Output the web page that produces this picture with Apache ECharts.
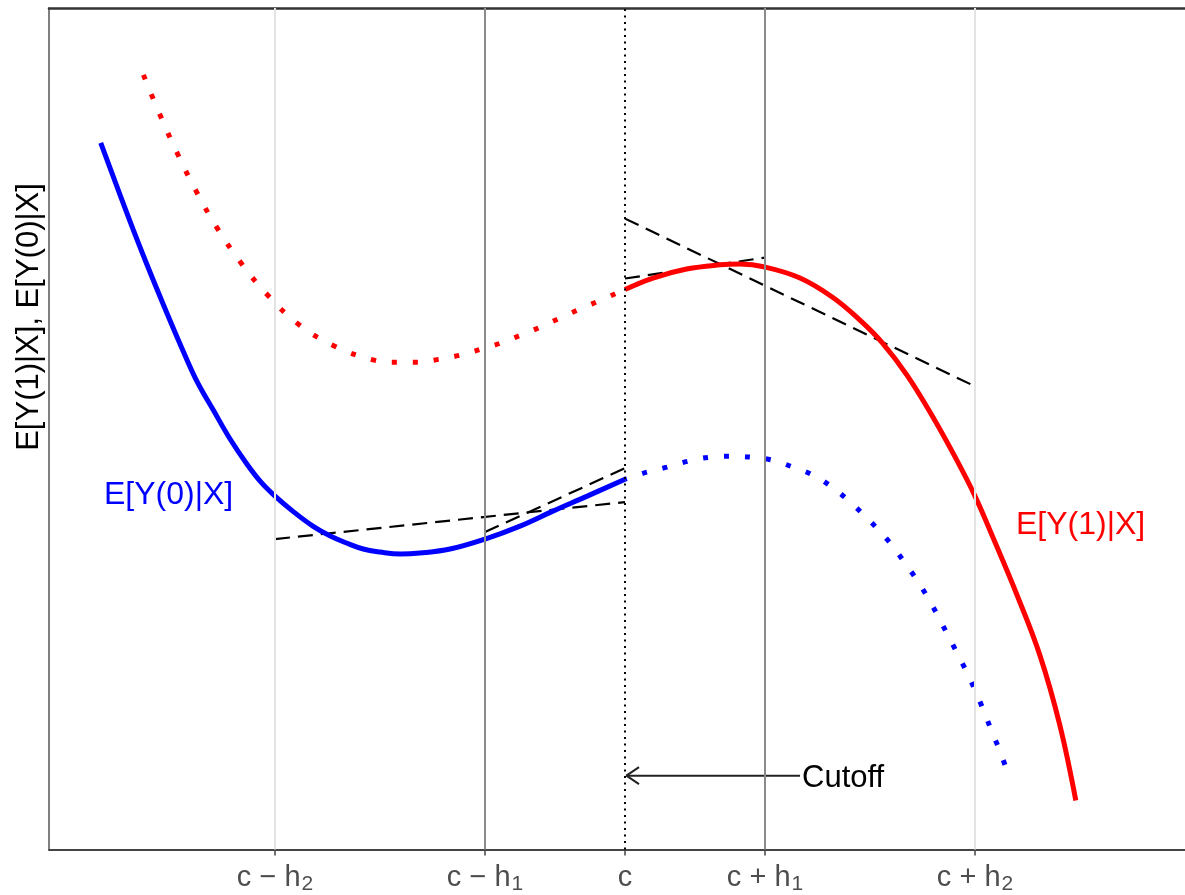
<!DOCTYPE html>
<html lang="en">

<head>
    <meta charset="UTF-8">
    <title>RD cutoff</title>
    <style>
        html, body { margin: 0; padding: 0; background: #fff; }
        #chart { width: 1185px; height: 895px; }
    </style>
</head>

<body>
    <div id="chart"></div>
</body>
<script src="https://cdn.jsdelivr.net/npm/echarts@6/dist/echarts.min.js"></script>
<script>
    // x in units where c = 0, h1 = 2, h2 = 5 ; y in arbitrary units
    const tickValues = [-5, -2, 0, 2, 5];
    const tickLabels = ['{m|c − h}{s|2}', '{m|c − h}{s|1}', '{m|c}', '{m|c + h}{s|1}', '{m|c + h}{s|2}'];

    // E[Y(0)|X] observed (left of cutoff) and counterfactual (right)
    const y0Solid = [[-7.49, 708], [-7.07, 629], [-6.83, 586], [-6.59, 545], [-6.36, 507], [-6.13, 471],
        [-5.88, 440], [-5.64, 411], [-5.40, 386], [-5.20, 368], [-5.00, 354], [-4.73, 338],
        [-4.46, 324], [-4.21, 314], [-3.98, 307], [-3.74, 301], [-3.50, 298], [-3.21, 296],
        [-2.93, 297], [-2.50, 301], [-2.00, 311], [-1.50, 324], [-1.03, 339], [-0.54, 354], [0, 371]];
    const y0Dotted = [[0, 371], [0.31, 378], [0.60, 383], [0.90, 389], [1.21, 393], [1.50, 394], [1.81, 393],
        [2.11, 390], [2.40, 383], [2.69, 375], [2.94, 364], [3.17, 351], [3.40, 336], [3.61, 321],
        [3.81, 305], [3.99, 288], [4.16, 271], [4.32, 253], [4.47, 234], [4.61, 215], [4.75, 196],
        [4.88, 178], [5.01, 158], [5.13, 138], [5.24, 118], [5.36, 98], [5.46, 78]];

    // E[Y(1)|X] counterfactual (left) and observed (right)
    const y1Dotted = [[-6.88, 776], [-6.65, 737], [-6.40, 698], [-6.13, 660], [-5.83, 623], [-5.49, 588],
        [-5.10, 555], [-4.66, 526], [-4.14, 504], [-3.57, 490], [-3.26, 488], [-2.96, 488],
        [-2.67, 491], [-2.37, 495], [-2.07, 501], [-1.79, 507], [-1.50, 515], [-1.22, 523],
        [-0.94, 532], [-0.66, 541], [-0.39, 549], [0, 561]];
    const y1Solid = [[0, 561], [0.40, 572.5], [0.88, 581.5], [1.36, 585.7], [1.64, 586.5], [2.00, 583.5],
        [2.50, 572.5], [2.97, 553], [3.36, 530], [3.67, 508], [4.03, 475], [4.40, 433], [4.74, 390],
        [5.00, 354], [5.26, 312], [5.60, 255], [5.93, 194], [6.21, 125], [6.44, 49]];

    // local linear fits
    const fitLeftH2 = [[-5, 311], [0, 348]];
    const fitLeftH1 = [[-2, 318], [0, 382]];
    const fitRightH1 = [[0, 572], [2, 593]];
    const fitRightH2 = [[0, 632], [5, 464]];

    const cutoffArrow = [[0.02, 74], [2.5, 74]];
    const arrowHead = [[0.2, 82.5], [0.02, 74], [0.2, 65.5]];

    const font = '"Liberation Sans", Arial, Helvetica, sans-serif';

    var myChart = echarts.init(document.getElementById('chart'));

    let curve = (data, color, dotted, offset) => ({
        type: 'line',
        data: data,
        showSymbol: false,
        smooth: 0.4,
        z: 4,
        lineStyle: dotted
            ? { color: color, width: 5, type: [5, 16], cap: 'butt', dashOffset: offset || 0 }
            : { color: color, width: 5, cap: 'butt' }
    });

    let dashed = (data) => ({
        type: 'line',
        data: data,
        showSymbol: false,
        z: 3,
        lineStyle: { color: '#000', width: 2.2, type: [15, 8] }
    });

    let vline = (x, color, width, type) => ({
        xAxis: x,
        lineStyle: { color: color, width: width, type: type, cap: 'butt' }
    });

    myChart.setOption({
        animation: false,
        grid: { left: 49, top: 8, bottom: 44, right: 0 },
        xAxis: [{
            type: 'value',
            min: -8.229,
            max: 8.0,
            splitLine: { show: false },
            axisLine: { onZero: false, lineStyle: { color: '#444', width: 2 } },
            axisTick: {
                customValues: tickValues,
                length: 6,
                lineStyle: { color: '#444', width: 1.5 }
            },
            axisLabel: {
                customValues: tickValues,
                margin: 11,
                formatter: (v) => tickLabels[tickValues.indexOf(v)],
                rich: {
                    m: { fontSize: 29, fontFamily: font, color: '#4d4d4d', lineHeight: 34 },
                    s: { fontSize: 21, fontFamily: font, color: '#4d4d4d', lineHeight: 20, padding: [14, 0, 0, 1] }
                }
            }
        }, {
            type: 'value',
            position: 'top',
            min: -8.229,
            max: 8.0,
            splitLine: { show: false },
            axisLine: { onZero: false, lineStyle: { color: '#333', width: 2.5 } },
            axisTick: { show: false },
            axisLabel: { show: false }
        }],
        yAxis: {
            type: 'value',
            min: 0,
            max: 843,
            splitLine: { show: false },
            axisLine: { show: true, onZero: false, lineStyle: { color: '#555', width: 1.5 } },
            axisTick: { show: false },
            axisLabel: { show: false }
        },
        series: [
            {
                type: 'line',
                data: [],
                z: 1,
                markLine: {
                    silent: true,
                    symbol: ['none', 'none'],
                    label: { show: false },
                    data: [
                        vline(-5, '#e3e3e3', 2, 'solid'),
                        vline(5, '#e3e3e3', 2, 'solid'),
                        vline(-2, '#8a8a8a', 2, 'solid'),
                        vline(2, '#8a8a8a', 2, 'solid'),
                        vline(0, '#000', 2, [2, 4.5])
                    ]
                }
            },
            curve(y0Solid, '#0000ff', false),
            curve(y0Dotted, '#0000ff', true, 3),
            curve(y1Dotted, '#ff0000', true),
            curve(y1Solid, '#ff0000', false),
            dashed(fitLeftH2),
            dashed(fitLeftH1),
            dashed(fitRightH1),
            dashed(fitRightH2),
            {
                type: 'line', data: cutoffArrow, showSymbol: false, z: 3,
                lineStyle: { color: '#222', width: 2 }
            },
            {
                type: 'line', data: arrowHead, showSymbol: false, z: 3,
                lineStyle: { color: '#222', width: 2 }
            }
        ],
        graphic: [
            {
                type: 'text', x: 29, y: 317, rotation: Math.PI / 2,
                style: { text: 'E[Y(1)|X], E[Y(0)|X]', fill: '#000', font: '31px ' + font, align: 'center', verticalAlign: 'middle' }
            },
            {
                type: 'text', x: 104, y: 495,
                style: { text: 'E[Y(0)|X]', fill: '#0000ff', font: '32px ' + font, align: 'left', verticalAlign: 'middle' }
            },
            {
                type: 'text', x: 1016, y: 525,
                style: { text: 'E[Y(1)|X]', fill: '#ff0000', font: '32px ' + font, align: 'left', verticalAlign: 'middle' }
            },
            {
                type: 'text', x: 802, y: 778,
                style: { text: 'Cutoff', fill: '#000', font: '31px ' + font, align: 'left', verticalAlign: 'middle' }
            }
        ]
    });
</script>

</html>
